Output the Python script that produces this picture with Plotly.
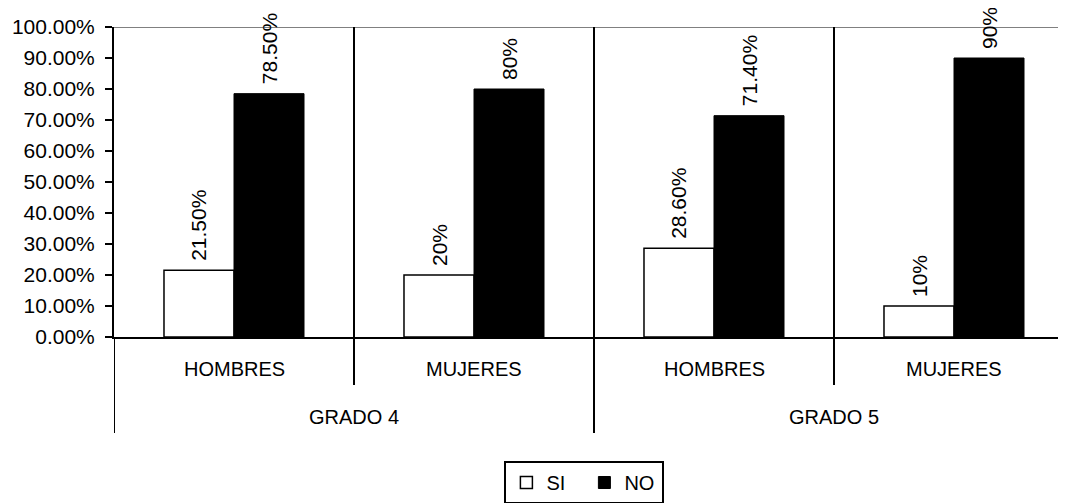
import plotly.graph_objects as go

# Data
groups = ["GRADO 4", "GRADO 5"]
subcats = ["HOMBRES", "MUJERES", "HOMBRES", "MUJERES"]
si_values = [0.215, 0.20, 0.286, 0.10]
no_values = [0.785, 0.80, 0.714, 0.90]
si_labels = ["21.50%", "20%", "28.60%", "10%"]
no_labels = ["78.50%", "80%", "71.40%", "90%"]
y_ticks = [i / 10 for i in range(11)]

FONT = "Liberation Sans, Arial, sans-serif"
xs = list(range(len(subcats)))
BW = 0.2917

fig = go.Figure()
fig.add_trace(go.Bar(
    name="SI", x=xs, y=si_values, width=BW, offset=-BW,
    marker=dict(color="white", line=dict(color="black", width=1.5)),
))
fig.add_trace(go.Bar(
    name="NO", x=xs, y=no_values, width=BW, offset=0,
    marker=dict(color="black", line=dict(color="black", width=1)),
))

annotations = []
for i in xs:
    annotations.append(dict(x=i, y=si_values[i], xref="x", yref="y", text=si_labels[i],
                            textangle=-90, showarrow=False, xshift=-35, yshift=7,
                            yanchor="bottom", xanchor="center",
                            font=dict(family=FONT, size=21, color="black")))
    annotations.append(dict(x=i, y=no_values[i], xref="x", yref="y", text=no_labels[i],
                            textangle=-90, showarrow=False, xshift=35, yshift=7,
                            yanchor="bottom", xanchor="center",
                            font=dict(family=FONT, size=21, color="black")))
    annotations.append(dict(x=i, y=-0.103, xref="x", yref="paper", text=subcats[i],
                            showarrow=False, yanchor="middle",
                            font=dict(family=FONT, size=20, color="black")))
for g, name in enumerate(groups):
    annotations.append(dict(x=2 * g + 0.5, y=-0.258, xref="x", yref="paper", text=name,
                            showarrow=False, yanchor="middle",
                            font=dict(family=FONT, size=20, color="black")))

shapes = [dict(type="line", xref="paper", yref="y", x0=0, x1=1, y0=1, y1=1,
               line=dict(color="#808080", width=2))]
for k in range(1, len(subcats) + 1):
    xpos = k - 0.5
    long_line = (k % 2 == 0)
    shapes.append(dict(type="line", xref="x", yref="paper", x0=xpos, x1=xpos,
                       y0=1, y1=(-0.31 if long_line else -0.155),
                       line=dict(color="black", width=2)))
shapes.append(dict(type="line", xref="x", yref="paper", x0=-0.5, x1=-0.5,
                   y0=0, y1=-0.31, line=dict(color="black", width=2)))

fig.update_layout(
    width=1066, height=503,
    margin=dict(l=106, r=0, t=19, b=174),
    paper_bgcolor="white", plot_bgcolor="white",
    font=dict(family=FONT, size=20, color="black"),
    showlegend=True,
    legend=dict(orientation="h", x=0.49, xanchor="center", y=-0.4, yanchor="top",
                bordercolor="black", borderwidth=2,
                font=dict(family=FONT, size=20, color="black"),
                itemwidth=30, tracegroupgap=0, entrywidth=33),
    xaxis=dict(range=[-0.5, 3.5], showticklabels=False, ticks="",
               showgrid=False, zeroline=False, showline=True, linecolor="black",
               linewidth=2, fixedrange=True),
    yaxis=dict(range=[0, 1], tickvals=y_ticks, tickformat=".2%", ticks="outside",
               ticklen=7, tickwidth=2, tickcolor="black", showgrid=False,
               zeroline=False, showline=True, linecolor="black", linewidth=2,
               tickfont=dict(family=FONT, size=21, color="black"),
               ticklabelstandoff=6),
    annotations=annotations, shapes=shapes,
)

fig.write_html("out.html")
